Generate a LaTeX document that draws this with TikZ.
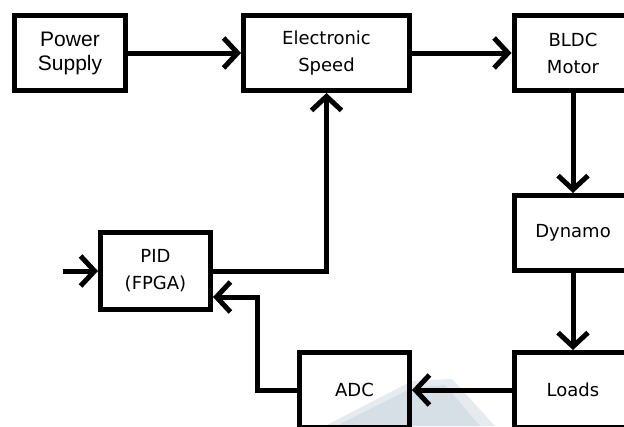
\documentclass[tikz,border=0pt]{standalone}
\usepackage{fontspec}
\setmainfont{DejaVu Sans}
\newfontfamily\psfont{Liberation Sans}
\usetikzlibrary{arrows.meta}
\definecolor{wmA}{RGB}{230,235,240}
\definecolor{wmB}{RGB}{214,222,230}
\tikzset{
  blk/.style={draw=black, line width=5pt, align=center, inner sep=0pt,
    minimum width=110pt, minimum height=75pt,
    font=\fontsize{18}{27}\selectfont},
  arr/.style={line width=5pt, -{Straight Barb[length=14pt,width=30pt,line width=5pt]}},
  ln/.style={line width=5pt}
}
\begin{document}
\begin{tikzpicture}[x=1pt,y=-1pt]
\useasboundingbox (0,0) rectangle (624,426);
\clip (0,0) rectangle (624,426);
\fill[white] (0,0) rectangle (624,426);
% watermark
\fill[wmA] (325,426) -- (412,381) -- (452,379) -- (495,426) -- cycle;
\fill[wmB] (336,426) -- (412,388) -- (445,385) -- (480,426) -- cycle;
% blocks
\node[blk, minimum width=111pt, font=\psfont\fontsize{21}{24}\selectfont] (ps) at (70,53) {Power\\Supply};
\node[blk, minimum width=166pt] (es) at (326.5,53) {Electronic\\Speed};
\node[blk, minimum width=118pt] (bldc) at (573,53) {BLDC\\Motor};
\node[blk, minimum width=118pt] (dyn) at (573,233) {Dynamo};
\node[blk, minimum width=118pt] (loads) at (573,390) {Loads};
\node[blk] (adc) at (354.5,390) {ADC};
\node[blk, minimum height=77pt] (pid) at (155.5,271) {PID\\(FPGA)};
% connectors
\draw[arr] (ps.east) -- (es.west);
\draw[arr] (es.east) -- (bldc.west);
\draw[arr] (bldc.south) -- (dyn.north);
\draw[arr] (dyn.south) -- (loads.north);
\draw[arr] (loads.west) -- (adc.east);
\coordinate (fb) at (257,297);
\draw[arr] (adc.west) -| (fb) -- (pid.east |- fb);
\draw[arr] (pid.east) -| (es.south);
\coordinate (in) at (63,271);
\draw[arr] (in) -- (pid.west);
\end{tikzpicture}
\end{document}
